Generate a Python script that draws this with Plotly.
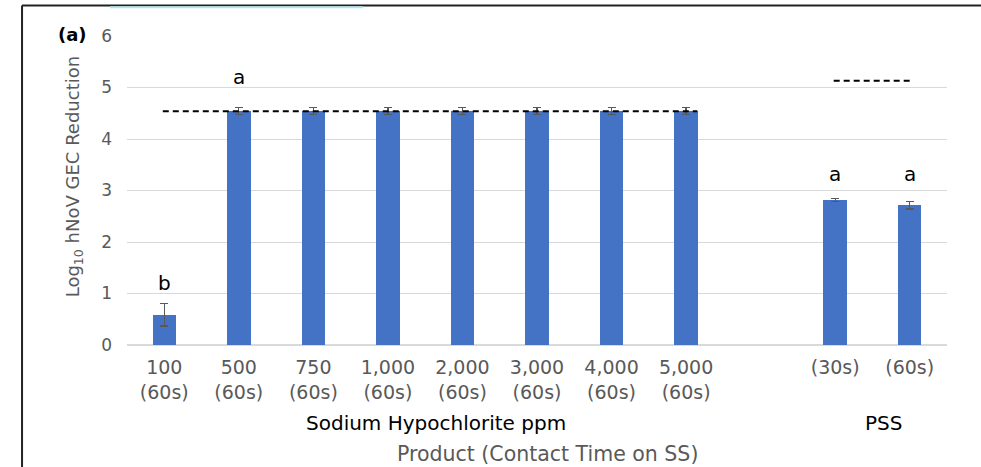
import plotly.graph_objects as go

# ---- data ----
categories = ["100<br>(60s)", "500<br>(60s)", "750<br>(60s)", "1,000<br>(60s)", "2,000<br>(60s)",
              "3,000<br>(60s)", "4,000<br>(60s)", "5,000<br>(60s)", "", "(30s)", "(60s)"]
slot_index = [0, 1, 2, 3, 4, 5, 6, 7, 9, 10]
bar_labels = [c for c in categories if c]
reduction = [0.59, 4.54, 4.54, 4.54, 4.54, 4.54, 4.54, 4.54, 2.81, 2.71]
reduction_err = [0.22, 0.07, 0.07, 0.07, 0.07, 0.07, 0.07, 0.07, 0.03, 0.07]
letters = ["b", "a", "a", "a"]
letter_slot = [0, 1, 9, 10]
letter_height = [1.2, 5.2, 3.33, 3.33]
limit_naocl = 4.54
limit_naocl_span = [-0.02, 7.15]
limit_pss = 5.13
limit_pss_span = [8.98, 10.03]
group_labels = ["Sodium Hypochlorite ppm", "PSS"]
group_pos = [3.65, 9.65]
y_ticks = [0, 1, 2, 3, 4, 5, 6]

FONT = "DejaVu Sans"
GRAY = "#595959"

fig = go.Figure()
fig.add_trace(go.Bar(
    x=slot_index, y=reduction, width=0.315,
    marker=dict(color="#4472C4", line=dict(width=0)),
    error_y=dict(type="data", array=reduction_err, visible=True,
                 color=GRAY, thickness=1.2, width=4),
    showlegend=False,
))

fig.add_shape(type="line", xref="x", yref="y",
              x0=limit_naocl_span[0], x1=limit_naocl_span[1], y0=limit_naocl, y1=limit_naocl,
              line=dict(color="black", width=2, dash="6px,4px"))
fig.add_shape(type="line", xref="x", yref="y",
              x0=limit_pss_span[0], x1=limit_pss_span[1], y0=limit_pss, y1=limit_pss,
              line=dict(color="black", width=2, dash="6px,4px"))

for t, s, h in zip(letters, letter_slot, letter_height):
    fig.add_annotation(x=s, y=h, text=t, showarrow=False, xref="x", yref="y",
                       font=dict(family=FONT, size=20, color="black"))

for t, p in zip(group_labels, group_pos):
    fig.add_annotation(x=p, y=-0.254, xref="x", yref="paper", text=t, showarrow=False,
                       yanchor="middle", font=dict(family=FONT, size=20, color="black"))

fig.add_annotation(x=0.513, y=-0.352, xref="paper", yref="paper",
                   text="Product (Contact Time on SS)", showarrow=False, yanchor="middle",
                   font=dict(family=FONT, size=20.5, color=GRAY))

fig.add_annotation(x=-0.065, y=0.545, xref="paper", yref="paper", textangle=-90,
                   text="Log<sub>10</sub> hNoV GEC Reduction", showarrow=False,
                   xanchor="center", yanchor="middle",
                   font=dict(family=FONT, size=18, color=GRAY))

fig.add_annotation(x=-0.066, y=1.005, xref="paper", yref="paper", text="<b>(a)</b>",
                   showarrow=False, xanchor="center", yanchor="middle",
                   font=dict(family=FONT, size=18, color="black"))

# frame
fig.add_shape(type="line", xref="paper", yref="paper", x0=-0.128, x1=1.08, y0=1.099, y1=1.099,
              line=dict(color="#222222", width=2))
fig.add_shape(type="line", xref="paper", yref="paper", x0=-0.128, x1=-0.128, y0=1.099, y1=-0.42,
              line=dict(color="#222222", width=2))
fig.add_shape(type="line", xref="paper", yref="paper", x0=-0.0207, x1=0.288, y0=1.093, y1=1.093,
              line=dict(color="#b5e6f0", width=2))

fig.update_layout(
    width=981, height=467,
    margin=dict(l=127, r=34, t=36, b=122, pad=0),
    paper_bgcolor="white", plot_bgcolor="white",
    bargap=0,
    xaxis=dict(range=[-0.5, 10.5], tickmode="array", tickvals=slot_index,
               ticktext=bar_labels, showgrid=False, zeroline=False, showline=False,
               ticks="", tickfont=dict(family=FONT, size=19, color=GRAY),
               ticklabelstandoff=9),
    yaxis=dict(range=[0, 6], tickmode="array", tickvals=y_ticks, showgrid=True,
               gridcolor="#d9d9d9", gridwidth=1, zeroline=True, zerolinecolor="#d9d9d9",
               zerolinewidth=1.5, showline=False, ticks="",
               tickfont=dict(family=FONT, size=17, color=GRAY), ticklabelstandoff=14),
)

fig.write_html("out.html")
